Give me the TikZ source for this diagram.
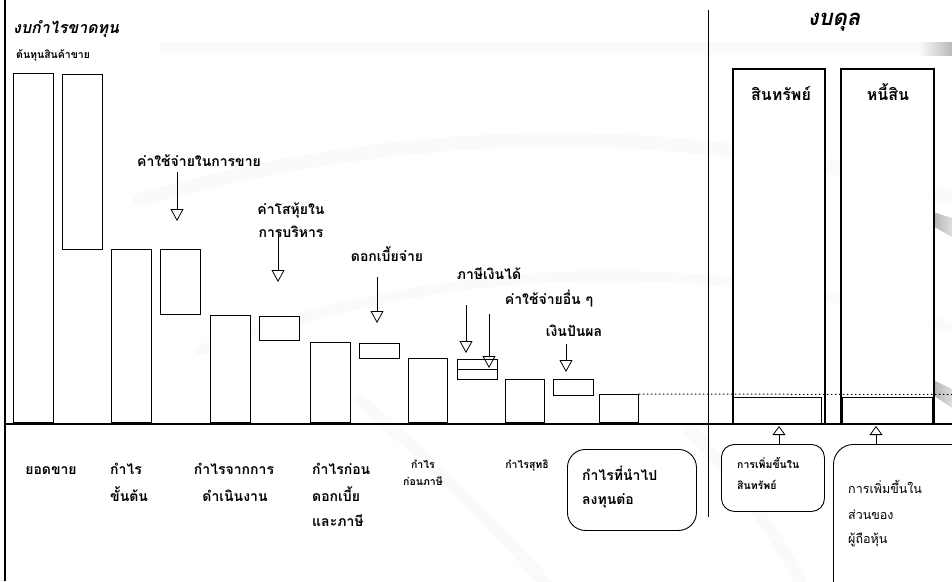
\documentclass[tikz,border=0pt]{standalone}
\usepackage{fontspec}
\newfontfamily\thai[Script=Thai]{Loma}
\usetikzlibrary{arrows.meta}
\begin{document}
\begin{tikzpicture}[x=1pt,y=-1pt,
  bar/.style={draw, line width=0.9pt, fill=white, inner sep=0pt, anchor=north west},
  sheet/.style={draw, line width=2pt, fill=white, inner sep=0pt, anchor=north west},
  subbar/.style={draw, line width=0.8pt, inner sep=0pt, anchor=north west},
  rbox/.style={draw, line width=0.9pt, fill=white, inner sep=0pt, anchor=north west, rounded corners=#1},
  lbl/.style={font=\thai\bfseries\fontsize{14}{16}\selectfont, inner sep=0pt, anchor=base},
  lblw/.style={lbl, anchor=base west},
  biglbl/.style={font=\thai\bfseries\fontsize{16}{18}\selectfont, inner sep=0pt, anchor=base},
  tiny/.style={font=\thai\bfseries\fontsize{10.5}{12}\selectfont, inner sep=0pt, anchor=base},
  tinyw/.style={tiny, anchor=base west},
  plain/.style={font=\thai\fontsize{12.5}{14}\selectfont, inner sep=0pt, anchor=base west},
  heading/.style={font=\thai\bfseries\itshape\fontsize{#1}{#1}\selectfont, inner sep=0pt},
  downarr/.style={line width=0.8pt, -{Triangle[open, width=13pt, length=12pt]}},
  uparr/.style={line width=0.8pt, -{Triangle[open, width=13pt, length=9pt]}}]
\useasboundingbox (0,0) rectangle (952,581);
\clip (0,0) rectangle (952,581);
\fill[white] (0,0) rectangle (952,581);

% faint background swooshes
\begin{scope}[line cap=round]
  \draw[gray!4, line width=14pt] (140,200) .. controls (420,120) and (700,120) .. (960,200);
  \draw[gray!4, line width=10pt] (200,350) .. controls (450,260) and (700,250) .. (960,330);
  \draw[gray!4, line width=12pt] (360,400) .. controls (430,460) and (500,530) .. (560,600);
  \draw[gray!4, line width=12pt] (690,430) .. controls (740,480) and (780,540) .. (810,600);
\end{scope}
\fill[gray!4] (160,42) rectangle (952,55);
\shade[left color=gray!5, right color=gray!55] (920,42) rectangle (952,55);
\shade[left color=gray!60, right color=gray!25] (933,212) -- (952,218) -- (952,237) -- (933,226) -- cycle;
\shade[left color=gray!60, right color=gray!25] (933,380) -- (952,389) -- (952,408) -- (933,395) -- cycle;

% frame lines
\draw[line width=2.5pt] (5,0) -- (5,581);
\draw[line width=0.8pt] (708,10) -- (708,517);

% income statement bars
\node[bar, minimum width=40pt, minimum height=349pt] (sales) at (13,73) {};
\node[bar, minimum width=40pt, minimum height=175pt] (cogs) at (62,74) {};
\node[bar, minimum width=40pt, minimum height=173pt] (gross) at (111,249) {};
\node[bar, minimum width=40pt, minimum height=65pt] (sellexp) at (160,249) {};
\node[bar, minimum width=40pt, minimum height=107pt] (oper) at (210,315) {};
\node[bar, minimum width=40pt, minimum height=24pt] (admin) at (259,316) {};
\node[bar, minimum width=40pt, minimum height=80pt] (ebit) at (310,342) {};
\node[bar, minimum width=40pt, minimum height=15pt] (interest) at (359,343) {};
\node[bar, minimum width=39pt, minimum height=64pt] (ebt) at (408,358) {};
\node[bar, minimum width=40pt, minimum height=10pt] (tax) at (457,359) {};
\node[bar, minimum width=40pt, minimum height=10pt] (otherexp) at (457,369) {};
\node[bar, minimum width=39pt, minimum height=43pt] (net) at (505,379) {};
\node[bar, minimum width=40pt, minimum height=16pt] (divid) at (553,379) {};
\node[bar, minimum width=39pt, minimum height=28pt] (retained) at (599,394) {};

% balance sheet columns
\node[sheet, minimum width=92pt, minimum height=355pt] (assets) at (732,68) {};
\node[sheet, minimum width=93pt, minimum height=355pt] (liabs) at (840,68) {};
\node[subbar, minimum width=89pt, minimum height=27pt] (assetinc) at (732,397) {};
\node[subbar, minimum width=90pt, minimum height=27pt] (equityinc) at (842,397) {};

% retained earnings level carried across
\draw[line width=1pt, dash pattern=on 1.5pt off 2.5pt] (retained.north east) -- (952,394.5);

% base line
\draw[line width=2.6pt] (5,424) -- (952,424);

% headings
\node[heading=16, anchor=base west] (istitle) at (13,33) {งบกำไรขาดทุน};
\node[heading=22, anchor=base] (bstitle) at (834,25) {งบดุล};
\node[tinyw] (cogslbl) at (16,58.5) {ต้นทุนสินค้าขาย};
\node[biglbl] (assetlbl) at (781,100) {สินทรัพย์};
\node[biglbl] (liablbl) at (888,100) {หนี้สิน};

% expense labels and arrows
\node[lbl] (sellbl) at (199,166) {ค่าใช้จ่ายในการขาย};
\coordinate (sellA) at (177,172);
\coordinate (sellB) at (177,221);
\draw[downarr] (sellA) -- (sellB);

\node[lbl] (admlbl1) at (291,214) {ค่าโสหุ้ยใน};
\node[lbl] (admlbl2) at (291,237) {การบริหาร};
\coordinate (admA) at (278,232);
\coordinate (admB) at (278,282);
\draw[downarr] (admA) -- (admB);

\node[lbl] (intlbl) at (387,261) {ดอกเบี้ยจ่าย};
\coordinate (intA) at (377,277);
\coordinate (intB) at (377,323);
\draw[downarr] (intA) -- (intB);

\node[lbl] (taxlbl) at (489,279) {ภาษีเงินได้};
\coordinate (taxA) at (466,305);
\coordinate (taxB) at (466,353);
\draw[downarr] (taxA) -- (taxB);

\node[lbl] (othlbl) at (549,304) {ค่าใช้จ่ายอื่น ๆ};
\coordinate (othA) at (489,314);
\coordinate (othB) at (489,368);
\draw[downarr] (othA) -- (othB);

\node[lbl] (divlbl) at (574,336) {เงินปันผล};
\coordinate (divA) at (566,344);
\coordinate (divB) at (566,372);
\draw[downarr] (divA) -- (divB);

% captions under the base line
\node[lbl] (salescap) at (51,474) {ยอดขาย};
\node[lblw] (grosscap1) at (110,474) {กำไร};
\node[lblw] (grosscap2) at (110,501) {ขั้นต้น};
\node[lbl] (opercap1) at (234,474) {กำไรจากการ};
\node[lbl] (opercap2) at (235,501) {ดำเนินงาน};
\node[lblw] (ebitcap1) at (312,474) {กำไรก่อน};
\node[lblw] (ebitcap2) at (312,501) {ดอกเบี้ย};
\node[lblw] (ebitcap3) at (312,526) {และภาษี};
\node[tiny] (ebtcap1) at (423,468) {กำไร};
\node[tiny] (ebtcap2) at (423,485) {ก่อนภาษี};
\node[tiny] (netcap) at (527,468) {กำไรสุทธิ};

% retained earnings box
\node[rbox=18pt, minimum width=129pt, minimum height=81pt] (reinv) at (567,449) {};
\node[lblw] (reinv1) at (582,480) {กำไรที่นำไป};
\node[lblw] (reinv2) at (582,504) {ลงทุนต่อ};

% increase in assets
\node[rbox=13pt, minimum width=103pt, minimum height=67pt] (incasset) at (721,444) {};
\node[tinyw] (incasset1) at (737,468) {การเพิ่มขึ้นใน};
\node[tinyw] (incasset2) at (737,489) {สินทรัพย์};
\coordinate (uaA) at (779,444);
\coordinate (uaB) at (779,426);
\draw[uparr] (uaA) -- (uaB);

% increase in shareholders' equity
\node[rbox=20pt, minimum width=160pt, minimum height=170pt] (incequity) at (833,444) {};
\node[plain] (incequity1) at (848,493) {การเพิ่มขึ้นใน};
\node[plain] (incequity2) at (848,519) {ส่วนของ};
\node[plain] (incequity3) at (848,543) {ผู้ถือหุ้น};
\coordinate (ueA) at (876,444);
\coordinate (ueB) at (876,426);
\draw[uparr] (ueA) -- (ueB);
\end{tikzpicture}
\end{document}
